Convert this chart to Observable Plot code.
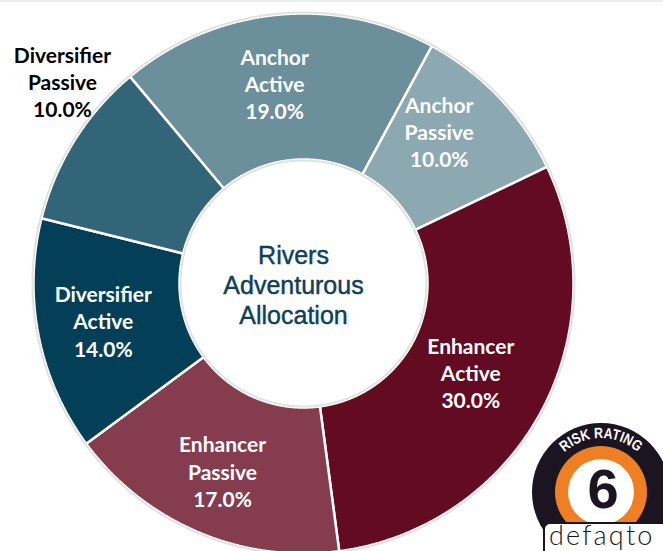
<!DOCTYPE html>
<html><head><meta charset="utf-8">
<script src="https://cdn.jsdelivr.net/npm/d3@7"></script>
<script src="https://cdn.jsdelivr.net/npm/@observablehq/plot@0.6"></script>
<style>
body{margin:0;background:#fff;}
#chart{width:663px;height:551px;overflow:hidden;position:relative;}
</style>
</head><body><div id="chart"></div>
<script>
// ---- data ----
const categories = ["Anchor Active","Anchor Passive","Enhancer Active","Enhancer Passive","Diversifier Active","Diversifier Passive"];
const values = [19.0, 10.0, 30.0, 17.0, 14.0, 10.0];
const centerTitle = ["Rivers","Adventurous","Allocation"];
const riskRating = "6";
const riskLabel = "RISK RATING";
const brand = "defaqto";

// ---- styles ----
const sliceColors = ["#6b8f9b","#8ca8b0","#620b22","#853c4f","#043f58","#336579"];
const outsideLabels = ["Diversifier Passive"];
// label nudges (px) relative to the slice centroid
const labelNudge = {
  "Anchor Active":[-9,-4], "Anchor Passive":[-7,-16], "Enhancer Active":[-6,-5],
  "Enhancer Passive":[-4,6], "Diversifier Active":[-7,-1], "Diversifier Passive":[-74,-98]
};

const R = 270, R0 = 124, startDeg = -40;
const rows = categories.map((c,i)=>({key:c, value:values[i]}));
const arcs = d3.pie().sort(null).value(d=>d.value)
  .startAngle(startDeg*Math.PI/180).endAngle(startDeg*Math.PI/180 + 2*Math.PI)(rows);

const pt = (r,a)=>({x: r*Math.sin(a), y: r*Math.cos(a)});
const polys = [];
arcs.forEach(a=>{
  const n = Math.max(2, Math.ceil((a.endAngle-a.startAngle)/(0.25*Math.PI/180)));
  const pts = [];
  for(let i=0;i<=n;i++) pts.push(pt(R, a.startAngle + (a.endAngle-a.startAngle)*i/n));
  for(let i=n;i>=0;i--) pts.push(pt(R0, a.startAngle + (a.endAngle-a.startAngle)*i/n));
  pts.push(pts[0]);
  pts.forEach(p=>polys.push({key:a.data.key, x:p.x, y:p.y}));
});
const ring = (r,key)=>d3.range(0,721).map(i=>({key, ...pt(r, i/720*2*Math.PI)}));
const rings = [...ring(R+1,"outer"), ...ring(R0-1,"inner")];

const labels = arcs.map(a=>{
  const m = (a.startAngle+a.endAngle)/2;
  const c = pt(197, m);
  const nd = labelNudge[a.data.key];
  return {key:a.data.key, x:c.x+nd[0], y:c.y-nd[1],
    text: a.data.key.split(" ").join("\n") + "\n" + a.data.value.toFixed(1) + "%",
    outside: outsideLabels.includes(a.data.key)};
});

const labelStyle = {x:"x", y:"y", text:"text", fontFamily:"Lato, 'Open Sans', sans-serif", fontWeight:"bold",
  fontSize:21, lineHeight:1.29, textAnchor:"middle", lineAnchor:"middle"};

const chart = Plot.plot({
  width:663, height:551, margin:0,
  x:{domain:[-303,360], axis:null},
  y:{domain:[-268,283], axis:null},
  color:{domain:categories, range:sliceColors},
  style:{background:"white"},
  marks:[
    Plot.line(polys, {x:"x", y:"y", z:"key", fill:"key", stroke:"white", strokeWidth:2.5, curve:"linear", strokeLinejoin:"miter"}),
    Plot.line(rings, {x:"x", y:"y", z:"key", stroke:"#e2e2e2", strokeWidth:2, curve:"linear"}),
    Plot.text(labels.filter(d=>!d.outside), {...labelStyle, fill:"white"}),
    Plot.text(labels.filter(d=>d.outside), {...labelStyle, fill:"black"}),
    Plot.text([centerTitle.join("\n")], {x:()=>0, y:()=>0, text:d=>d, dx:-10, dy:1,
      fontFamily:"'Liberation Sans', Arial, sans-serif", fontSize:25, lineHeight:1.2,
      fill:"#0f4058", stroke:"#0f4058", strokeWidth:0.45, textAnchor:"middle", lineAnchor:"middle"})
  ]
});
document.getElementById("chart").appendChild(chart);

// ---- decorative badge & top rule ----
const svg = d3.select(chart);
svg.append("rect").attr("x",0).attr("y",0).attr("width",663).attr("height",2).attr("fill","#eceeee");
const cx = 601, cy = 492, dark = "#1b1421";
const g = svg.append("g");
g.append("circle").attr("cx",cx).attr("cy",cy).attr("r",69).attr("fill",dark);
g.append("circle").attr("cx",cx).attr("cy",cy).attr("r",46).attr("fill","#f07e22");
g.append("circle").attr("cx",cx).attr("cy",cy).attr("r",33).attr("fill","white");
g.append("text").attr("x",cx+2).attr("y",cy+16).attr("text-anchor","middle")
  .attr("font-family","'Liberation Sans', Arial, sans-serif").attr("font-weight","bold")
  .attr("font-size",56).attr("fill",dark).text(riskRating);
const rr = 54, a0 = -55*Math.PI/180, a1 = 55*Math.PI/180;
g.append("path").attr("id","riskArc").attr("fill","none")
  .attr("d",`M${cx+rr*Math.sin(a0)},${cy-rr*Math.cos(a0)} A${rr},${rr} 0 0 1 ${cx+rr*Math.sin(a1)},${cy-rr*Math.cos(a1)}`);
g.append("text").attr("font-family","'Liberation Sans', Arial, sans-serif").attr("font-weight","bold")
  .attr("font-size",15).attr("fill","white").attr("text-anchor","middle")
  .append("textPath").attr("href","#riskArc").attr("startOffset","50%").attr("text-anchor","middle")
  .attr("textLength",80).attr("lengthAdjust","spacingAndGlyphs").text(riskLabel);
g.append("rect").attr("x",544).attr("y",523).attr("width",140).attr("height",40).attr("rx",6)
  .attr("fill","white").attr("stroke",dark).attr("stroke-width",2);
g.append("text").attr("x",549).attr("y",545).attr("text-anchor","start").attr("font-family","Lato, 'Open Sans', sans-serif")
  .attr("font-weight",300).attr("font-size",27).attr("letter-spacing",2.2).attr("fill",dark).text(brand);
</script>
</body></html>
